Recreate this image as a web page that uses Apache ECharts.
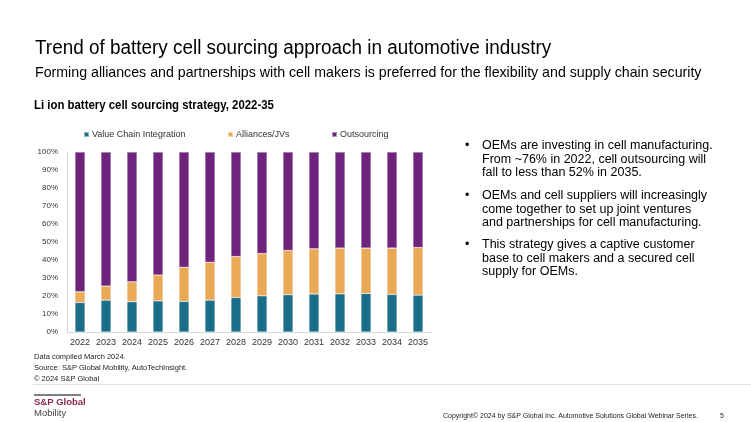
<!DOCTYPE html>
<html>
<head>
<meta charset="utf-8">
<script src="https://cdn.jsdelivr.net/npm/echarts@6/dist/echarts.min.js"></script>
<style>html,body{margin:0;padding:0;background:#fff;}#c{width:751px;height:422px;}</style>
</head>
<body>
<div id="c"></div>
<script>
var categories = ['2022','2023','2024','2025','2026','2027','2028','2029','2030','2031','2032','2033','2034','2035'];
var valueChainIntegration = [16.4,17.7,16.8,17.3,17.0,17.7,19.2,20.1,20.7,21.1,21.2,21.4,20.9,20.5];
var alliancesJVs = [5.9,7.8,11.1,14.4,19.0,21.1,22.7,23.5,24.6,25.1,25.4,25.2,25.7,26.4];
var outsourcing = [77.7,74.5,72.1,68.3,64.0,61.2,58.1,56.4,54.7,53.8,53.4,53.4,53.4,53.1];
var seriesNames = ['Value Chain Integration','Alliances/JVs','Outsourcing'];
var yTicks = [0,10,20,30,40,50,60,70,80,90,100];

var FONT = "'Liberation Sans', Arial, sans-serif";
var colors = ['#1b6e89','#eaa957','#6e237c'];
var chart = echarts.init(document.getElementById('c'), null, {renderer:'canvas'});

function txt(x, y, s, size, opts) {
  opts = opts || {};
  return {
    type: 'text', x: x, y: y, silent: true,
    scaleX: opts.scaleX || 1,
    style: {
      text: s, fill: opts.color || '#000', font: (opts.weight || 'normal') + ' ' + size + 'px ' + FONT,
      textVerticalAlign: 'middle', textAlign: opts.align || 'left'
    }
  };
}

var bullets = [
  ['OEMs are investing in cell manufacturing.','From ~76% in 2022, cell outsourcing will','fall to less than 52% in 2035.'],
  ['OEMs and cell suppliers will increasingly','come together to set up joint ventures','and partnerships for cell manufacturing.'],
  ['This strategy gives a captive customer','base to cell makers and a secured cell','supply for OEMs.']
];
var bulletY = [146, 196, 245];
var graphics = [];
graphics.push(txt(35, 48, 'Trend of battery cell sourcing approach in automotive industry', 20, {scaleX: 0.945}));
graphics.push(txt(35, 73, 'Forming alliances and partnerships with cell makers is preferred for the flexibility and supply chain security', 15, {scaleX: 0.946}));
graphics.push(txt(34, 106, 'Li ion battery cell sourcing strategy, 2022-35', 12, {weight:'bold', scaleX: 0.95}));
bullets.forEach(function(lines, i){
  graphics.push(txt(465, bulletY[i], '•', 12.5));
  lines.forEach(function(l, j){
    graphics.push(txt(482, bulletY[i] + j*13.5, l, 12.5));
  });
});
graphics.push(txt(34, 357, 'Data compiled March 2024.', 7.5, {color:'#222'}));
graphics.push(txt(34, 368, 'Source: S&P Global Mobility, AutoTechInsight.', 7.5, {color:'#222'}));
graphics.push(txt(34, 379, '© 2024 S&P Global', 7.5, {color:'#222'}));
graphics.push({type:'line', silent:true, shape:{x1:33,y1:384.5,x2:751,y2:384.5}, style:{stroke:'#e2e2e2', lineWidth:1}});
graphics.push({type:'line', silent:true, shape:{x1:34,y1:395,x2:81,y2:395}, style:{stroke:'#000', lineWidth:1.2}});
graphics.push(txt(34, 402, 'S&P Global', 9.5, {weight:'bold', color:'#8c2a4e'}));
graphics.push(txt(34, 413, 'Mobility', 9.5, {color:'#444'}));
graphics.push(txt(443, 416, 'Copyright© 2024 by S&P Global Inc. Automotive Solutions Global Webinar Series.', 7, {color:'#222'}));
graphics.push(txt(720, 416, '5', 7, {color:'#222'}));

var legendPos = [78, 222, 326];
var legends = seriesNames.map(function(n, i){
  return {
    data: [n], left: legendPos[i], top: 125, itemWidth: 5, itemHeight: 5, icon: 'rect', itemGap: 4,
    textStyle: {fontSize: 9, fontFamily: FONT, color: '#333', padding:[0,0,0,-2]}
  };
});

var dataArr = [valueChainIntegration, alliancesJVs, outsourcing];
chart.setOption({
  animation: false,
  color: colors,
  legend: legends,
  grid: {left: 67, right: 320, top: 152, bottom: 90, containLabel: false},
  xAxis: {
    type: 'category', data: categories,
    axisLine: {lineStyle: {color: '#d9d9d9'}}, axisTick: {show: false},
    axisLabel: {fontSize: 9, color: '#333', fontFamily: FONT, margin: 6, interval: 0}
  },
  yAxis: {
    type: 'value', min: yTicks[0], max: yTicks[yTicks.length-1], interval: 10,
    axisLine: {show: true, lineStyle: {color: '#d9d9d9'}}, axisTick: {show: false}, splitLine: {show: false},
    axisLabel: {fontSize: 8, color: '#333', fontFamily: FONT, formatter: '{value}%', margin: 9}
  },
  series: seriesNames.map(function(n, i){
    return {name: n, type: 'bar', stack: 'total', barWidth: 10, data: dataArr[i],
      itemStyle: {borderColor: 'rgba(255,255,255,0.5)', borderWidth: 0.5}};
  }),
  graphic: graphics
});
</script>
</body>
</html>
